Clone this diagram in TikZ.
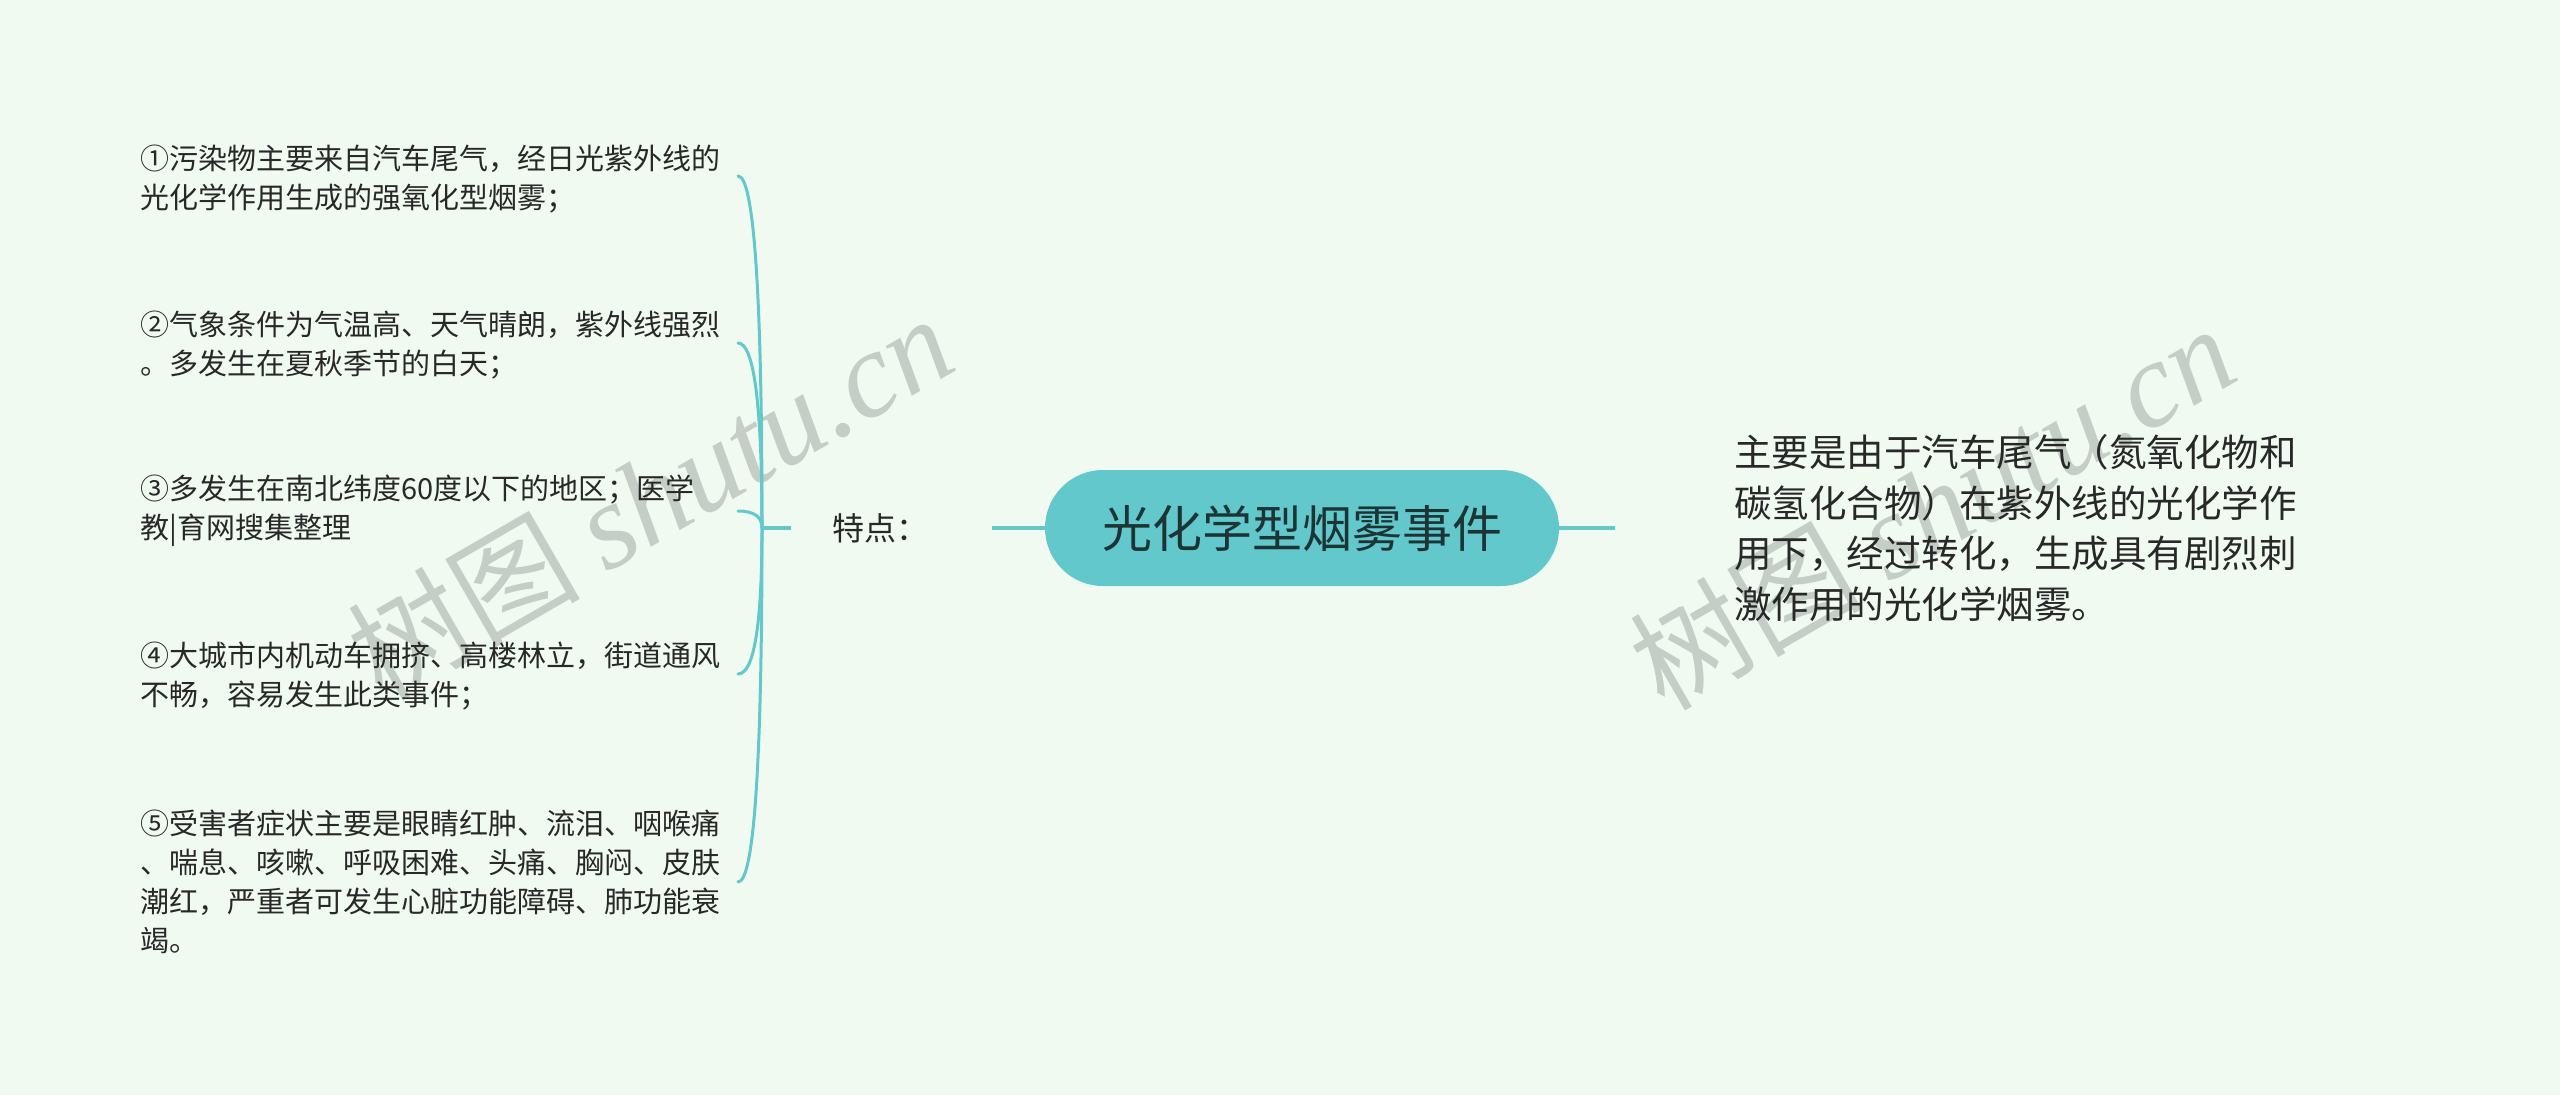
\documentclass[tikz,border=0pt]{standalone}
\usepackage{fontspec}
\newfontfamily\cjk{Noto Sans CJK SC}
\newfontfamily\wmserif{Liberation Serif}
\definecolor{bgc}{RGB}{241,250,240}
\definecolor{teal1}{RGB}{98,200,203}
\definecolor{txt}{RGB}{40,40,40}
\definecolor{pilltxt}{RGB}{28,52,52}
\definecolor{wmc}{RGB}{196,205,198}
\tikzset{
  leaf/.style={anchor=west, align=left, inner sep=0pt, text=txt, font=\fontsize{29}{39}\selectfont\cjk},
  link/.style={draw=teal1, line width=3.5pt},
  brace/.style={draw=teal1, line width=3pt, line cap=round},
  pill/.style={fill=teal1, rounded corners=58pt, minimum width=514pt, minimum height=116pt, inner sep=0pt, text=pilltxt, font=\fontsize{50}{60}\selectfont\cjk},
  wm/.style={rotate=30, text=wmc, inner sep=0pt}
}
\newcommand{\wmtext}{{\fontsize{116}{122}\selectfont\cjk 树图}\hspace{26pt}{\fontsize{122}{128}\selectfont\wmserif\itshape shutu.cn}}
\begin{document}
\begin{tikzpicture}[x=1pt,y=-1pt]
\fill[bgc] (0,0) rectangle (2560,1095);
\useasboundingbox (0,0) rectangle (2560,1095);

% watermarks (behind)
\node[wm] (wm1) at (650,497) {\wmtext};
\node[wm] (wm2) at (1932,507) {\wmtext};

% central topic
\node[pill] (main) at (1302,528) {光化学型烟雾事件};

% branch label
\node[inner sep=0pt, text=txt, font=\fontsize{32}{38}\selectfont\cjk] (feat) at (880,528) {特点：};

% right text
\node[anchor=west, align=left, inner sep=0pt, text=txt, font=\fontsize{37.5}{50.5}\selectfont\cjk] (desc) at (1734,528) {主要是由于汽车尾气（氮氧化物和\\碳氢化合物）在紫外线的光化学作\\用下，经过转化，生成具有剧烈刺\\激作用的光化学烟雾。};

% connectors
\coordinate (mainL) at (1045,528);
\coordinate (featR) at (992,528);
\coordinate (mainR) at (1559,528);
\coordinate (descL) at (1615,528);
\coordinate (root) at (762,528);
\coordinate (stub) at (791,528);
\draw[link] (featR) -- (mainL);
\draw[link] (mainR) -- (descL);
\draw[link] (root) -- (stub);

% leaves
\node[leaf] (l1) at (140,179) {①污染物主要来自汽车尾气，经日光紫外线的\\光化学作用生成的强氧化型烟雾；};
\node[leaf] (l2) at (140,345) {②气象条件为气温高、天气晴朗，紫外线强烈\\。多发生在夏秋季节的白天；};
\node[leaf] (l3) at (140,511) {③多发生在南北纬度60度以下的地区；医学\\教|育网搜集整理};
\node[leaf] (l4) at (140,676) {④大城市内机动车拥挤、高楼林立，街道通风\\不畅，容易发生此类事件；};
\node[leaf] (l5) at (140,882) {⑤受害者症状主要是眼睛红肿、流泪、咽喉痛\\、喘息、咳嗽、呼吸困难、头痛、胸闷、皮肤\\潮红，严重者可发生心脏功能障碍、肺功能衰\\竭。};

% brace curves
\foreach \i/\yy in {1/176,2/343,3/511,4/674,5/882}{
  \coordinate (e\i) at (738,\yy);
  \pgfmathsetmacro{\cy}{528+2/3*(\yy-528)}
  \draw[brace] (root) .. controls (762,\cy) and (754,\yy) .. (e\i);
}
\end{tikzpicture}
\end{document}
